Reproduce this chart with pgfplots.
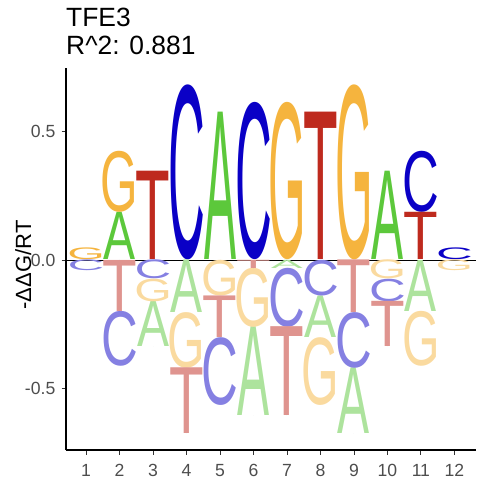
\documentclass[border=0pt]{standalone}
\usepackage{pgfplots}
\pgfplotsset{compat=1.18}
\usepackage{pgfplotstable}
\usepackage{graphicx}
\usepackage{fontspec}
\setmainfont{Liberation Sans}
\definecolor{cA}{HTML}{5CC83B}
\definecolor{cC}{HTML}{0A00C6}
\definecolor{cG}{HTML}{F5B43E}
\definecolor{cT}{HTML}{BE2A1E}
\definecolor{tickgray}{HTML}{4D4D4D}
\newdimen\unitY
\unitY=256.6pt
\newdimen\letterH
\DeclareRobustCommand\logoletter[3]{%
  \letterH=\pgfplotspointmeta\unitY
  \resizebox*{#2}{\letterH}{\textcolor{#3}{#1}}}

% positive letters: x, bottom, height
\pgfplotstableread{
x bot h
2 0 0.184
5 0 0.574
10 0 0.344
}\posA
\pgfplotstableread{
x bot h
4 0 0.682
6 0 0.613
11 0.184 0.238
12 0 0.046
}\posC
\pgfplotstableread{
x bot h
1 0 0.046
2 0.184 0.238
7 0 0.613
9 0 0.682
}\posG
\pgfplotstableread{
x bot h
3 0 0.344
8 0 0.574
11 0 0.184
}\posT
% negative letters
\pgfplotstableread{
x bot h
3 -0.338 0.176
4 -0.205 0.205
6 -0.608 0.346
7 -0.032 0.032
8 -0.301 0.162
9 -0.678 0.256
11 -0.199 0.199
}\negA
\pgfplotstableread{
x bot h
1 -0.042 0.042
2 -0.413 0.214
3 -0.074 0.074
5 -0.565 0.264
7 -0.262 0.230
8 -0.139 0.139
9 -0.422 0.217
10 -0.162 0.088
}\negC
\pgfplotstableread{
x bot h
3 -0.162 0.088
4 -0.422 0.217
5 -0.139 0.139
6 -0.262 0.230
8 -0.565 0.264
10 -0.074 0.074
11 -0.413 0.214
12 -0.042 0.042
}\negG
\pgfplotstableread{
x bot h
2 -0.199 0.199
4 -0.678 0.256
5 -0.301 0.162
6 -0.032 0.032
7 -0.608 0.346
9 -0.205 0.205
10 -0.338 0.176
}\negT

\pgfplotsset{
  logo/.style n args={3}{
    only marks, mark=*, mark size=0pt, mark options={draw=none, fill=none},
    point meta=explicit symbolic,
    nodes near coords={\logoletter{#1}{#2}{#3}},
    nodes near coords align={anchor=south},
    every node near coord/.style={anchor=south, inner sep=0pt, outer sep=0pt},
  }
}

\begin{document}
\begin{tikzpicture}
\path[use as bounding box] (0,0) rectangle (480pt,480pt);
\begin{axis}[
  at={(66pt,30pt)}, anchor=south west,
  x=33.48pt, y=256.6pt,
  xmin=0.4, xmax=12.646, ymin=-0.7405, ymax=0.7482,
  axis x line*=bottom, axis y line*=left,
  axis line style={-, line width=1.1pt, black},
  xtick={1,2,3,4,5,6,7,8,9,10,11,12},
  xticklabels={1,2,3,4,5,6,7,8,9,10,11,12},
  ytick={-0.5,0,0.5}, yticklabels={-0.5,0.0,0.5},
  tick align=outside, major tick length=4.5pt,
  tick style={line width=0.8pt, black!80},
  tick label style={font=\fontsize{17.6}{20}\selectfont, color=tickgray},
  xticklabel style={anchor=base, inner sep=0pt, yshift=-21.7pt},
  yticklabel style={anchor=east, inner sep=0pt, xshift=-6pt},
  clip=false,
]
\addplot[logo={A}{32pt}{cA}] table[x=x, y=bot, meta=h] {\posA};
\addplot[logo={C}{36.7pt}{cC}] table[x=x, y=bot, meta=h] {\posC};
\addplot[logo={G}{37.5pt}{cG}] table[x=x, y=bot, meta=h] {\posG};
\addplot[logo={T}{34.6pt}{cT}] table[x=x, y=bot, meta=h] {\posT};
\addplot[logo={A}{32pt}{cA!50!white}] table[x=x, y=bot, meta=h] {\negA};
\addplot[logo={C}{36.7pt}{cC!50!white}] table[x=x, y=bot, meta=h] {\negC};
\addplot[logo={G}{37.5pt}{cG!50!white}] table[x=x, y=bot, meta=h] {\negG};
\addplot[logo={T}{34.6pt}{cT!50!white}] table[x=x, y=bot, meta=h] {\negT};
\addplot[black, line width=0.7pt, no marks] coordinates {(0.4,0) (12.646,0)};
\end{axis}
\node[anchor=base west, inner sep=0pt, font=\fontsize{26.4}{30}\selectfont] at (66pt,453.3pt) {TFE3};
\node[anchor=base west, inner sep=0pt, font=\fontsize{26.4}{30}\selectfont] at (66pt,425pt) {R\textasciicircum 2: 0.881};
\node[rotate=90, anchor=base, inner sep=0pt, font=\fontsize{22}{26}\selectfont] at (31pt,215pt) {-ΔΔG/RT};
\end{tikzpicture}
\end{document}
